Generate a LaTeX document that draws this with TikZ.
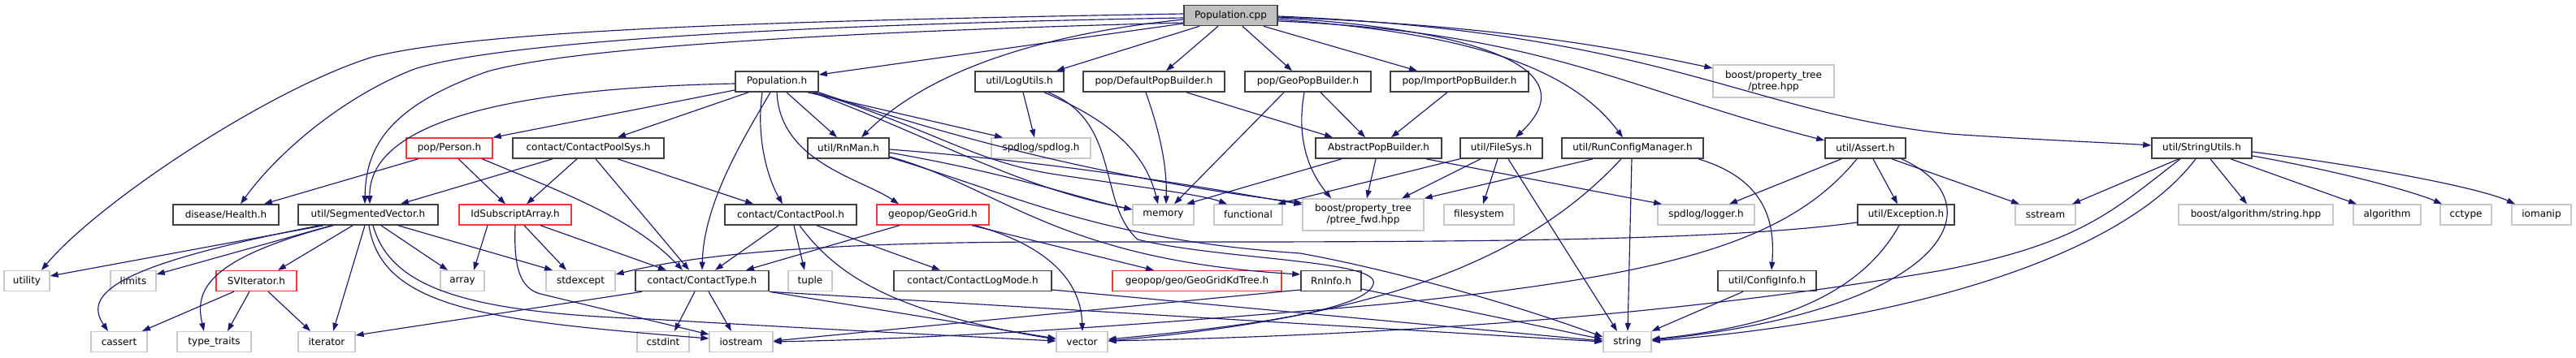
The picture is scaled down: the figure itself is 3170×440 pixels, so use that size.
\documentclass[tikz,border=0pt]{standalone}
\usepackage{fontspec}
\setmainfont{DejaVu Sans}
\usetikzlibrary{arrows.meta}
\definecolor{edgec}{HTML}{191970}
\definecolor{docb}{HTML}{404040}
\definecolor{extb}{HTML}{C8C8C8}
\definecolor{trb}{HTML}{F03838}
\definecolor{rootf}{HTML}{BFBFBF}
\tikzset{
  box/.style={draw, line width=1.3pt, minimum height=25pt, inner sep=0pt, font=\fontsize{12}{14}\selectfont, align=center},
  doc/.style={box, draw=docb, line width=1.6pt},
  ext/.style={box, draw=extb},
  trunc/.style={box, draw=trb},
  e/.style={draw=edgec, line width=1.15pt, -{Triangle[length=10pt,width=7pt]}},
}
\begin{document}
\begin{tikzpicture}[x=1pt,y=-1pt]
\useasboundingbox[fill=white] (0,0) rectangle (3170,440);
% row 0
\node[doc, fill=rootf, minimum width=115pt] (pcpp) at (1514.5,19) {Population.cpp};
% row 1
\node[doc, minimum width=102pt] (ph) at (956,100.5) {Population.h};
\node[doc, minimum width=109pt] (logutils) at (1254.5,100.5) {util/LogUtils.h};
\node[doc, minimum width=174pt] (defpb) at (1420,100.5) {pop/DefaultPopBuilder.h};
\node[doc, minimum width=155pt] (geopb) at (1609.5,100.5) {pop/GeoPopBuilder.h};
\node[doc, minimum width=170pt] (imppb) at (1796,100.5) {pop/ImportPopBuilder.h};
\node[ext, minimum width=149pt, minimum height=40pt] (ptree) at (2182.5,100) {boost/property\_tree\\/ptree.hpp};
% row 2
\node[trunc, minimum width=106pt] (person) at (553,182.5) {pop/Person.h};
\node[doc, minimum width=186pt] (cps) at (724,182.5) {contact/ContactPoolSys.h};
\node[doc, minimum width=100pt] (rnman) at (1044,182.5) {util/RnMan.h};
\node[ext, minimum width=122pt] (spdlog) at (1281,182.5) {spdlog/spdlog.h};
\node[doc, minimum width=155pt] (abspb) at (1696.5,182.5) {AbstractPopBuilder.h};
\node[doc, minimum width=101pt] (filesys) at (1847.5,182.5) {util/FileSys.h};
\node[doc, minimum width=174pt] (runcfg) at (2009,182.5) {util/RunConfigManager.h};
\node[doc, minimum width=99pt] (assert) at (2295.5,182.5) {util/Assert.h};
\node[doc, minimum width=123pt] (strutils) at (2709.5,182.5) {util/StringUtils.h};
% row 3
\node[doc, minimum width=130pt] (health) at (278,264.5) {disease/Health.h};
\node[doc, minimum width=172pt] (sv) at (453,264.5) {util/SegmentedVector.h};
\node[trunc, minimum width=138pt] (idsub) at (634,264.5) {IdSubscriptArray.h};
\node[doc, minimum width=162pt] (cpool) at (973,264.5) {contact/ContactPool.h};
\node[trunc, minimum width=138pt] (geogrid) at (1148,264.5) {geopop/GeoGrid.h};
\node[ext, minimum width=75pt] (memory) at (1431.5,264.5) {memory};
\node[ext, minimum width=84pt] (functional) at (1536,264.5) {functional};
\node[ext, minimum width=149pt, minimum height=39pt] (ptreefwd) at (1677.5,264.5) {boost/property\_tree\\/ptree\_fwd.hpp};
\node[ext, minimum width=86pt] (filesystem) at (1820,264.5) {filesystem};
\node[ext, minimum width=119pt] (logger) at (2099.5,264.5) {spdlog/logger.h};
\node[doc, minimum width=119pt] (exception) at (2345.5,264.5) {util/Exception.h};
\node[ext, minimum width=74pt] (sstream) at (2517,264.5) {sstream};
\node[ext, minimum width=190pt] (boostalg) at (2776,264.5) {boost/algorithm/string.hpp};
\node[ext, minimum width=83pt] (algorithm) at (2937.5,264.5) {algorithm};
\node[ext, minimum width=63pt] (cctype) at (3034.5,264.5) {cctype};
\node[ext, minimum width=73pt] (iomanip) at (3127.5,264.5) {iomanip};
% row 4
\node[ext, minimum width=56pt] (utility) at (33,346) {utility};
\node[ext, minimum width=56pt] (limits) at (164,346) {limits};
\node[trunc, minimum width=99pt] (sviter) at (315.5,346) {SVIterator.h};
\node[ext, minimum width=54pt] (array) at (569,346) {array};
\node[ext, minimum width=85pt] (stdexcept) at (714.5,346) {stdexcept};
\node[doc, minimum width=164pt] (ctype) at (864,346) {contact/ContactType.h};
\node[ext, minimum width=54pt] (tuple) at (997,346) {tuple};
\node[doc, minimum width=194pt] (clogmode) at (1197,346) {contact/ContactLogMode.h};
\node[trunc, minimum width=208pt] (kdtree) at (1473,346) {geopop/geo/GeoGridKdTree.h};
\node[doc, minimum width=74pt] (rninfo) at (1638,346) {RnInfo.h};
\node[doc, minimum width=121pt] (configinfo) at (2174.5,346) {util/ConfigInfo.h};
% row 5
\node[ext, minimum width=69pt] (cassert) at (146.5,421) {cassert};
\node[ext, minimum width=91pt] (typetraits) at (263.5,421) {type\_traits};
\node[ext, minimum width=70pt] (iterator) at (402,421) {iterator};
\node[ext, minimum width=64pt] (cstdint) at (816,421) {cstdint};
\node[ext, minimum width=78pt] (iostream) at (912,421) {iostream};
\node[ext, minimum width=63pt] (vector) at (1331.5,421) {vector};
\node[ext, minimum width=59pt] (string) at (2002.5,421) {string};

% ---- edges from Population.cpp
\draw[e] (pcpp.west |- 0,17) .. controls (1000,25) and (600,35) .. (459,70) .. controls (330,110) and (120,250) .. (utility.north -| 51,0);
\draw[e] (pcpp.west |- 0,22) .. controls (1000,30) and (620,50) .. (510,85) .. controls (420,120) and (340,190) .. (health.north -| 296,0);
\draw[e] (pcpp.west |- 0,28) .. controls (1000,40) and (700,60) .. (600,88) .. controls (480,130) and (450,180) .. (sv.north -| 449,0);
\draw[e] (pcpp.west |- 0,29) -- (ph.east |- 0,92);
\draw[e] (pcpp.west |- 0,24) .. controls (1300,40) and (1150,80) .. (rnman.north -| 1060,0);
\draw[e] (pcpp.south -| 1476,0) -- (logutils.north -| 1300,0);
\draw[e] (pcpp.south -| 1499,0) -- (defpb.north -| 1435,0);
\draw[e] (pcpp.south -| 1529,0) -- (geopb.north -| 1590,0);
\draw[e] (pcpp.south -| 1555,0) -- (imppb.north -| 1744,0);
\draw[e] (pcpp.east |- 0,22) .. controls (1800,35) and (1960,80) .. (filesys.north -| 1865,0);
\draw[e] (pcpp.east |- 0,24) .. controls (1800,40) and (1930,80) .. (runcfg.north -| 1997,0);
\draw[e] (pcpp.east |- 0,21) .. controls (1800,30) and (1950,50) .. (ptree.west |- 0,84);
\draw[e] (pcpp.east |- 0,26) .. controls (1900,40) and (2000,110) .. (assert.west |- 0,173);
\draw[e] (pcpp.east |- 0,20) .. controls (2050,40) and (2150,140) .. (2400,165) .. controls (2500,172) and (2600,176) .. (strutils.west |- 0,179);

% ---- Population.h
\draw[e] (ph.west |- 0,103) .. controls (560,110) and (454,170) .. (sv.north -| 455,0);
\draw[e] (ph.west |- 0,111) -- (person.north east);
\draw[e] (ph.south -| 921,0) -- (cps.north -| 760,0);
\draw[e] (ph.south -| 948,0) .. controls (915,170) and (866,250) .. (ctype.north -| 864,0);
\draw[e] (ph.south -| 938,0) .. controls (930,170) and (945,220) .. (cpool.north -| 963,0);
\draw[e] (ph.south -| 956,0) .. controls (960,200) and (1060,220) .. (geogrid.north -| 1106,0);
\draw[e] (ph.south -| 968,0) -- (rnman.north -| 1030,0);
\draw[e] (ph.south -| 994,0) -- (spdlog.north -| 1234,0);
\draw[e] (ph.south -| 1000,0) .. controls (1150,170) and (1250,230) .. (memory.west |- 0,258);
\draw[e] (ph.south -| 1003,0) .. controls (1150,160) and (1200,200) .. (1300,215) .. controls (1400,230) and (1480,240) .. (functional.north -| 1510,0);
\draw[e] (ph.south east) .. controls (1200,180) and (1400,225) .. (ptreefwd.west |- 0,250);

% ---- Person.h
\draw[e] (person.south -| 515,0) -- (health.north -| 325,0);
\draw[e] (person.south -| 564,0) -- (idsub.north -| 622,0);
\draw[e] (person.south -| 593,0) .. controls (700,240) and (780,270) .. (ctype.north -| 840,0);

% ---- ContactPoolSys.h
\draw[e] (cps.south -| 680,0) -- (sv.north -| 493,0);
\draw[e] (cps.south -| 710,0) -- (idsub.north -| 648,0);
\draw[e] (cps.south -| 733,0) -- (ctype.north -| 848,0);
\draw[e] (cps.south -| 760,0) -- (cpool.north -| 927,0);

% ---- SegmentedVector.h
\draw[e] (sv.south -| 398,0) -- (utility.east |- 0,340);
\draw[e] (sv.south -| 393,0) .. controls (150,325) and (100,360) .. (cassert.north -| 133,0);
\draw[e] (sv.south -| 408,0) -- (limits.east |- 0,338);
\draw[e] (sv.south -| 410,0) .. controls (250,320) and (240,360) .. (typetraits.north -| 251,0);
\draw[e] (sv.south -| 434,0) -- (sviter.north -| 342,0);
\draw[e] (sv.south -| 449,0) -- (iterator.north -| 410,0);
\draw[e] (sv.south -| 469,0) -- (array.north -| 551,0);
\draw[e] (sv.south -| 490,0) -- (stdexcept.north -| 680,0);
\draw[e] (sv.south -| 454,0) .. controls (470,380) and (600,395) .. (iostream.west |- 0,417);
\draw[e] (sv.south -| 459,0) .. controls (480,350) and (560,385) .. (800,393) .. controls (1000,405) and (1200,415) .. (vector.west |- 0,420);

% ---- IdSubscriptArray.h
\draw[e] (idsub.south -| 600,0) -- (array.north -| 583,0);
\draw[e] (idsub.south -| 645,0) -- (stdexcept.north -| 697,0);
\draw[e] (idsub.south -| 665,0) -- (ctype.north -| 820,0);
\draw[e] (idsub.south -| 634,0) .. controls (632,330) and (640,355) .. (665,362) -- (iostream.west |- 0,412);

% ---- SVIterator.h
\draw[e] (sviter.south -| 288,0) -- (cassert.north -| 175,0);
\draw[e] (sviter.south -| 307,0) -- (typetraits.north -| 280,0);
\draw[e] (sviter.south -| 330,0) -- (iterator.north -| 382,0);

% ---- ContactType.h
\draw[e] (ctype.south -| 855,0) -- (cstdint.north -| 830,0);
\draw[e] (ctype.south -| 872,0) -- (iostream.north -| 900,0);
\draw[e] (ctype.south -| 790,0) -- (iterator.east |- 0,413);
\draw[e] (ctype.south east) -- (string.west |- 0,421);
\draw[e] (ctype.south east) -- (vector.west |- 0,417);

% ---- ContactPool.h
\draw[e] (cpool.south -| 958,0) -- (ctype.north -| 880,0);
\draw[e] (cpool.south -| 977,0) -- (tuple.north -| 990,0);
\draw[e] (cpool.south -| 984,0) .. controls (1030,340) and (1100,385) .. (vector.west |- 0,418);
\draw[e] (cpool.south -| 1005,0) -- (clogmode.north -| 1157,0);

% ---- GeoGrid.h
\draw[e] (geogrid.south -| 1107,0) -- (ctype.north -| 918,0);
\draw[e] (geogrid.south -| 1196,0) -- (kdtree.north -| 1420,0);
\draw[e] (geogrid.south -| 1200,0) .. controls (1280,300) and (1330,340) .. (vector.north -| 1332,0);

% ---- ContactLogMode.h
\draw[e] (clogmode.east |- 0,357) -- (string.west |- 0,420);

% ---- RnMan.h
\draw[e] (rnman.east |- 0,184) .. controls (1300,200) and (1450,225) .. (ptreefwd.west |- 0,252);
\draw[e] (rnman.east |- 0,188) .. controls (1250,215) and (1330,245) .. (memory.west |- 0,258);
\draw[e] (rnman.east |- 0,193) .. controls (1230,230) and (1300,320) .. (rninfo.west |- 0,338);
\draw[e] (rnman.east |- 0,194) .. controls (1250,240) and (1350,295) .. (1600,312) .. controls (1700,330) and (1850,370) .. (string.west |- 0,415);

% ---- RnInfo.h
\draw[e] (rninfo.west |- 0,357) -- (iostream.east |- 0,420);
\draw[e] (rninfo.east |- 0,356) -- (string.west |- 0,418);

% ---- LogUtils.h
\draw[e] (logutils.south -| 1259,0) -- (spdlog.north -| 1273,0);
\draw[e] (logutils.south -| 1285,0) .. controls (1370,150) and (1410,190) .. (memory.north -| 1425,0);
\draw[e] (logutils.south -| 1290,0) .. controls (1380,150) and (1350,250) .. (1400,295) .. controls (1500,320) and (1700,320) .. (1690,350) .. controls (1680,385) and (1500,405) .. (vector.east |- 0,418);

% ---- pop builders
\draw[e] (defpb.south -| 1410,0) .. controls (1430,170) and (1436,210) .. (memory.north -| 1435,0);
\draw[e] (defpb.south -| 1460,0) -- (abspb.north -| 1640,0);
\draw[e] (geopb.south -| 1580,0) -- (memory.north -| 1445,0);
\draw[e] (geopb.south -| 1625,0) -- (abspb.north -| 1680,0);
\draw[e] (geopb.south -| 1605,0) .. controls (1595,170) and (1610,210) .. (ptreefwd.north -| 1638,0);
\draw[e] (imppb.south -| 1781,0) -- (abspb.north -| 1712,0);
\draw[e] (abspb.south -| 1651,0) -- (memory.north -| 1460,0);
\draw[e] (abspb.south -| 1693,0) -- (ptreefwd.north -| 1682,0);
\draw[e] (abspb.south -| 1755,0) -- (logger.north -| 2045,0);

% ---- FileSys.h
\draw[e] (filesys.south west) -- (functional.north -| 1572,0);
\draw[e] (filesys.south -| 1822,0) -- (ptreefwd.north -| 1725,0);
\draw[e] (filesys.south -| 1843,0) -- (filesystem.north -| 1825,0);
\draw[e] (filesys.south -| 1856,0) -- (string.north -| 1990,0);

% ---- RunConfigManager.h
\draw[e] (runcfg.south -| 1960,0) -- (ptreefwd.north east);
\draw[e] (runcfg.south -| 1995,0) .. controls (1880,320) and (1700,390) .. (vector.east |- 0,420);
\draw[e] (runcfg.south -| 2008,0) -- (string.north -| 2003,0);
\draw[e] (runcfg.south -| 2090,0) .. controls (2170,220) and (2185,270) .. (configinfo.north -| 2180,0);

% ---- Assert.h
\draw[e] (assert.south -| 2266,0) -- (logger.north -| 2128,0);
\draw[e] (assert.south -| 2285,0) .. controls (2200,300) and (2050,340) .. (1700,375) .. controls (1300,410) and (1100,418) .. (iostream.east |- 0,421);
\draw[e] (assert.south -| 2305,0) -- (exception.north -| 2335,0);
\draw[e] (assert.south -| 2328,0) -- (sstream.north -| 2485,0);
\draw[e] (assert.south -| 2340,0) .. controls (2460,250) and (2400,380) .. (string.east |- 0,419);

% ---- Exception.h
\draw[e] (exception.west |- 0,274) .. controls (2100,300) and (1700,298) .. (1300,298) .. controls (1000,298) and (850,315) .. (stdexcept.east |- 0,338);
\draw[e] (exception.south -| 2337,0) .. controls (2280,380) and (2150,405) .. (string.east |- 0,418);

% ---- ConfigInfo.h
\draw[e] (configinfo.south -| 2145,0) -- (string.north east);

% ---- StringUtils.h
\draw[e] (strutils.south -| 2681,0) -- (sstream.north -| 2550,0);
\draw[e] (strutils.south -| 2683,0) .. controls (2600,260) and (2560,300) .. (2390,333) .. controls (2000,400) and (1600,415) .. (vector.east |- 0,420);
\draw[e] (strutils.south -| 2702,0) .. controls (2600,330) and (2300,400) .. (string.east |- 0,420);
\draw[e] (strutils.south -| 2720,0) -- (boostalg.north -| 2765,0);
\draw[e] (strutils.south -| 2745,0) -- (algorithm.north -| 2900,0);
\draw[e] (strutils.east |- 0,192) .. controls (2900,215) and (2980,240) .. (cctype.north -| 3005,0);
\draw[e] (strutils.east |- 0,187) .. controls (2950,210) and (3060,235) .. (iomanip.north -| 3095,0);
\end{tikzpicture}
\end{document}
